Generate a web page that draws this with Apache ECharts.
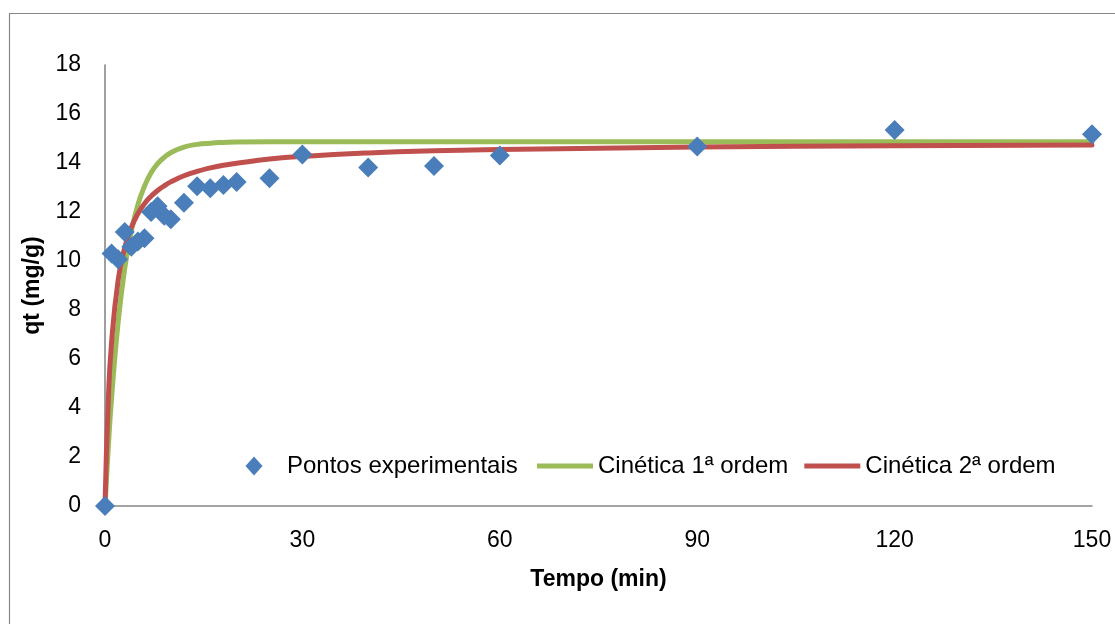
<!DOCTYPE html>
<html>
<head>
<meta charset="utf-8">
<script src="https://cdn.jsdelivr.net/npm/echarts@6/dist/echarts.min.js"></script>
<style>
html,body{margin:0;padding:0;background:#fff;}
#chart{width:1115px;height:624px;}
</style>
</head>
<body>
<div id="chart"></div>
<script>
// Experimental points
const tExp = [0, 1, 2, 3, 4, 5, 6, 7, 8, 9, 10, 12, 14, 16, 18, 20, 25, 30, 40, 50, 60, 90, 120, 150];
const qExp = [0, 10.31, 10.07, 11.18, 10.58, 10.8, 10.93, 12.0, 12.23, 11.85, 11.7, 12.38, 13.05, 12.97, 13.1, 13.22, 13.38, 14.35, 13.82, 13.88, 14.31, 14.67, 15.35, 15.17];
// Fitted curves
const tFit = [0, 0.5, 1, 2, 3, 4, 5, 6, 7, 8, 9, 10, 12, 14, 16, 18, 20, 25, 30, 40, 50, 60, 90, 120, 150];
const qFirst = [0, 2.4, 4.4, 7.5, 9.7, 11.2, 12.3, 13.05, 13.6, 13.97, 14.23, 14.42, 14.65, 14.76, 14.81, 14.84, 14.86, 14.87, 14.87, 14.87, 14.87, 14.87, 14.87, 14.87, 14.87];
const qSecond = [0, 4.3, 6.68, 9.22, 10.55, 11.37, 11.93, 12.34, 12.64, 12.88, 13.07, 13.23, 13.48, 13.66, 13.8, 13.91, 13.99, 14.16, 14.27, 14.41, 14.5, 14.55, 14.65, 14.7, 14.73];
const xTicks = [0, 30, 60, 90, 120, 150];
const yTicks = [0, 2, 4, 6, 8, 10, 12, 14, 16, 18];
const names = ['Pontos experimentais', 'Cinética 1ª ordem', 'Cinética 2ª ordem'];
const xTitle = 'Tempo (min)';
const yTitle = 'qt (mg/g)';

const FONT = 'Liberation Sans';
const pair = (xs, ys) => xs.map((x, i) => [x, ys[i]]);

const chart = echarts.init(document.getElementById('chart'), null, {renderer: 'canvas'});
chart.setOption({
  animation: false,
  backgroundColor: '#fff',
  textStyle: {fontFamily: FONT, color: '#000'},
  graphic: [{
    type: 'rect', silent: true,
    shape: {x: 9.5, y: 13.5, width: 1300, height: 800},
    style: {fill: 'none', stroke: '#878787', lineWidth: 1.2}
  }],
  grid: {left: 105, right: 23, top: 65, bottom: 118, containLabel: false},
  legend: [{
    left: 245.5, top: 454, padding: 0,
    itemWidth: 17, itemHeight: 19,
    data: [{name: names[0], icon: 'diamond'}],
    textStyle: {fontFamily: FONT, fontSize: 24, color: '#000', padding: [0, 0, 0, 19.5]}
  }, {
    left: 537, top: 454, padding: 0,
    itemWidth: 56, itemHeight: 5, itemGap: 16,
    data: [{name: names[1], icon: 'rect'}, {name: names[2], icon: 'rect'}],
    textStyle: {fontFamily: FONT, fontSize: 24, color: '#000'}
  }],
  xAxis: {
    type: 'value', min: xTicks[0], max: xTicks[xTicks.length - 1],
    interval: xTicks[1] - xTicks[0],
    name: xTitle, nameLocation: 'middle', nameGap: 62,
    nameTextStyle: {fontFamily: FONT, fontSize: 23, fontWeight: 'bold', color: '#000'},
    axisLine: {show: true, lineStyle: {color: '#878787', width: 1.6}},
    axisTick: {show: false},
    splitLine: {show: false},
    axisLabel: {fontFamily: FONT, fontSize: 23, color: '#000', margin: 23}
  },
  yAxis: {
    type: 'value', min: yTicks[0], max: yTicks[yTicks.length - 1],
    interval: yTicks[1] - yTicks[0],
    name: yTitle, nameLocation: 'middle', nameGap: 56,
    nameTextStyle: {fontFamily: FONT, fontSize: 23, fontWeight: 'bold', color: '#000'},
    axisLine: {show: true, lineStyle: {color: '#878787', width: 1.6}},
    axisTick: {show: false},
    splitLine: {show: false},
    axisLabel: {fontFamily: FONT, fontSize: 23, color: '#000', margin: 24}
  },
  series: [
    {
      name: names[1], type: 'line', data: pair(tFit, qFirst),
      showSymbol: false, symbol: 'none', smooth: true,
      lineStyle: {color: '#9BBB59', width: 5, cap: 'round', join: 'round'},
      itemStyle: {color: '#9BBB59'}, emphasis: {disabled: true}, z: 2
    },
    {
      name: names[2], type: 'line', data: pair(tFit, qSecond),
      showSymbol: false, symbol: 'none', smooth: true,
      lineStyle: {color: '#C0504D', width: 5, cap: 'round', join: 'round'},
      itemStyle: {color: '#C0504D'}, emphasis: {disabled: true}, z: 3
    },
    {
      name: names[0], type: 'scatter', data: pair(tExp, qExp),
      symbol: 'diamond', symbolSize: 20,
      itemStyle: {color: '#4A7EBB', opacity: 1}, emphasis: {disabled: true}, z: 4
    }
  ]
});
</script>
</body>
</html>
